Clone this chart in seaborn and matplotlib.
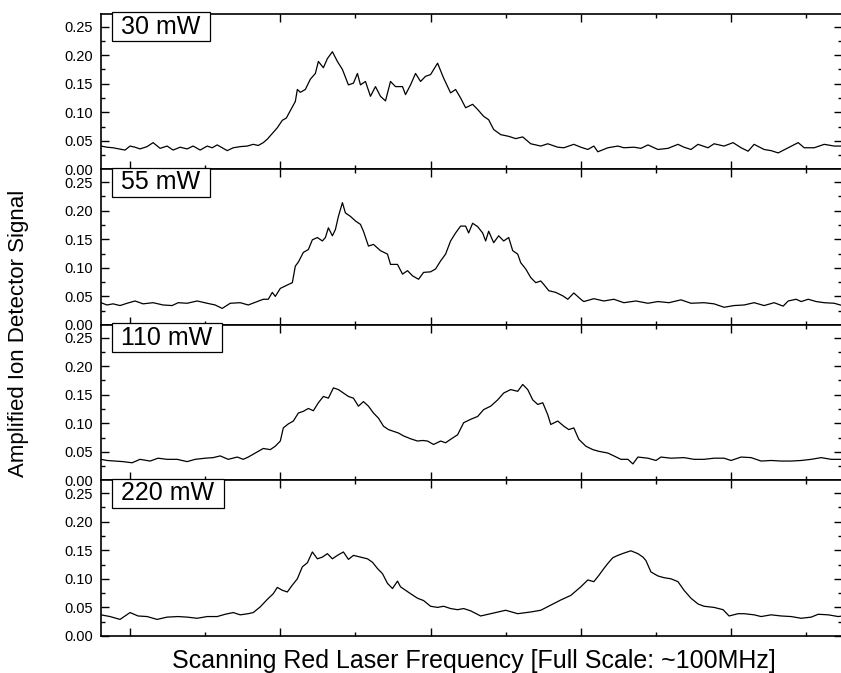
import matplotlib
matplotlib.use("Agg")
import matplotlib.pyplot as plt
import pandas as pd
import seaborn as sns
from matplotlib.ticker import FormatStrFormatter, MultipleLocator

POWER_LABELS = ["30 mW", "55 mW", "110 mW", "220 mW"]

# (scan step, amplified ion detector signal)
TRACE_30MW = [
    (0, 0.041), (6, 0.039), (12, 0.038), (18, 0.036), (24, 0.034), (29, 0.041), (34, 0.039),
    (39, 0.036), (46, 0.040), (52, 0.047), (59, 0.037), (66, 0.041), (72, 0.034), (79, 0.039),
    (86, 0.036), (92, 0.041), (99, 0.034), (106, 0.041), (111, 0.038), (116, 0.043), (121, 0.038),
    (126, 0.033), (132, 0.038), (139, 0.040), (146, 0.041), (152, 0.044), (157, 0.042), (162, 0.047),
    (166, 0.053), (172, 0.065), (176, 0.073), (181, 0.086), (185, 0.090), (189, 0.103), (194, 0.119),
    (196, 0.140), (199, 0.135), (204, 0.140), (209, 0.158), (214, 0.168), (217, 0.189), (222, 0.178),
    (226, 0.194), (231, 0.206), (236, 0.189), (241, 0.175), (247, 0.148), (252, 0.151), (256, 0.168),
    (259, 0.148), (264, 0.154), (269, 0.128), (274, 0.145), (279, 0.128), (284, 0.120), (289, 0.154),
    (294, 0.145), (301, 0.145), (304, 0.131), (309, 0.148), (314, 0.168), (319, 0.154), (324, 0.163),
    (329, 0.166), (336, 0.186), (342, 0.160), (349, 0.134), (354, 0.140), (359, 0.125), (364, 0.108),
    (371, 0.114), (376, 0.105), (382, 0.093), (387, 0.087), (392, 0.070), (399, 0.061), (407, 0.058),
    (414, 0.054), (421, 0.057), (429, 0.045), (439, 0.041), (446, 0.045), (456, 0.039), (462, 0.038),
    (472, 0.044), (479, 0.039), (486, 0.035), (492, 0.041), (496, 0.031), (506, 0.038), (516, 0.041),
    (522, 0.038), (532, 0.039), (539, 0.037), (546, 0.043), (556, 0.035), (566, 0.037), (576, 0.044),
    (582, 0.039), (589, 0.035), (596, 0.044), (606, 0.038), (612, 0.045), (622, 0.041), (631, 0.047),
    (639, 0.038), (646, 0.032), (652, 0.044), (662, 0.035), (669, 0.033), (676, 0.029), (686, 0.038),
    (696, 0.047), (702, 0.038), (712, 0.038), (722, 0.044), (732, 0.041), (740, 0.041),
]

TRACE_55MW = [
    (0, 0.039), (6, 0.035), (12, 0.037), (19, 0.034), (26, 0.038), (34, 0.042), (42, 0.037),
    (52, 0.039), (62, 0.035), (71, 0.034), (77, 0.039), (86, 0.038), (96, 0.042), (106, 0.038),
    (114, 0.035), (121, 0.029), (129, 0.038), (139, 0.039), (147, 0.035), (156, 0.041), (162, 0.045),
    (167, 0.045), (171, 0.057), (174, 0.050), (179, 0.064), (186, 0.070), (191, 0.074), (194, 0.103),
    (197, 0.110), (202, 0.127), (207, 0.132), (211, 0.149), (216, 0.153), (221, 0.147), (224, 0.153),
    (227, 0.170), (231, 0.156), (234, 0.167), (237, 0.190), (241, 0.214), (244, 0.196), (249, 0.190),
    (254, 0.182), (259, 0.176), (262, 0.164), (267, 0.138), (272, 0.141), (279, 0.130), (286, 0.124),
    (289, 0.106), (296, 0.106), (301, 0.089), (306, 0.095), (311, 0.086), (317, 0.080), (322, 0.092),
    (329, 0.093), (334, 0.098), (339, 0.112), (344, 0.124), (349, 0.147), (354, 0.161), (359, 0.173),
    (364, 0.173), (367, 0.161), (371, 0.178), (376, 0.172), (381, 0.161), (384, 0.147), (387, 0.164),
    (392, 0.144), (397, 0.156), (402, 0.147), (407, 0.153), (411, 0.130), (416, 0.124), (419, 0.109),
    (424, 0.098), (429, 0.083), (434, 0.074), (439, 0.077), (442, 0.071), (447, 0.060), (454, 0.057),
    (461, 0.051), (466, 0.045), (472, 0.056), (479, 0.045), (482, 0.041), (492, 0.046), (502, 0.042),
    (512, 0.045), (522, 0.039), (534, 0.042), (546, 0.038), (556, 0.041), (567, 0.039), (579, 0.044),
    (589, 0.038), (602, 0.039), (612, 0.037), (622, 0.031), (632, 0.034), (642, 0.035), (652, 0.039),
    (662, 0.034), (672, 0.039), (681, 0.033), (686, 0.042), (694, 0.045), (699, 0.041), (706, 0.045),
    (714, 0.041), (722, 0.039), (732, 0.038), (740, 0.034),
]

TRACE_110MW = [
    (0, 0.037), (6, 0.035), (14, 0.034), (22, 0.033), (31, 0.031), (39, 0.037), (49, 0.034),
    (57, 0.039), (66, 0.037), (76, 0.037), (86, 0.033), (94, 0.037), (104, 0.039), (112, 0.040),
    (119, 0.043), (127, 0.037), (136, 0.041), (142, 0.037), (147, 0.041), (154, 0.048), (162, 0.056),
    (169, 0.054), (174, 0.060), (179, 0.069), (182, 0.092), (187, 0.099), (192, 0.104), (197, 0.118),
    (202, 0.121), (207, 0.126), (212, 0.122), (217, 0.136), (222, 0.147), (227, 0.144), (232, 0.162),
    (237, 0.159), (242, 0.153), (247, 0.147), (252, 0.144), (257, 0.130), (262, 0.138), (267, 0.130),
    (272, 0.118), (277, 0.109), (282, 0.095), (287, 0.089), (292, 0.086), (297, 0.083), (302, 0.078),
    (309, 0.073), (316, 0.069), (321, 0.070), (326, 0.069), (332, 0.063), (339, 0.069), (344, 0.066),
    (349, 0.072), (356, 0.080), (362, 0.101), (369, 0.107), (376, 0.112), (382, 0.124), (389, 0.130),
    (396, 0.141), (402, 0.153), (409, 0.159), (416, 0.156), (421, 0.168), (426, 0.159), (431, 0.141),
    (436, 0.133), (441, 0.136), (446, 0.115), (449, 0.098), (456, 0.104), (462, 0.095), (467, 0.089),
    (472, 0.092), (477, 0.072), (484, 0.060), (491, 0.054), (497, 0.051), (506, 0.048), (512, 0.043),
    (519, 0.037), (526, 0.037), (531, 0.029), (536, 0.041), (546, 0.039), (554, 0.035), (559, 0.041),
    (569, 0.039), (582, 0.040), (592, 0.037), (602, 0.037), (612, 0.039), (622, 0.039), (629, 0.035),
    (639, 0.041), (649, 0.040), (659, 0.034), (669, 0.035), (679, 0.034), (689, 0.034), (699, 0.035),
    (709, 0.037), (719, 0.040), (729, 0.037), (740, 0.037),
]

TRACE_220MW = [
    (0, 0.037), (9, 0.034), (19, 0.029), (29, 0.041), (37, 0.035), (46, 0.034), (56, 0.029),
    (66, 0.033), (77, 0.034), (86, 0.033), (96, 0.031), (106, 0.034), (116, 0.034), (124, 0.038),
    (132, 0.041), (139, 0.037), (147, 0.039), (152, 0.041), (159, 0.051), (166, 0.064), (172, 0.074),
    (176, 0.085), (181, 0.080), (186, 0.077), (191, 0.089), (196, 0.100), (201, 0.121), (206, 0.128),
    (211, 0.147), (216, 0.135), (221, 0.138), (226, 0.144), (231, 0.135), (236, 0.141), (242, 0.147),
    (247, 0.134), (252, 0.141), (259, 0.138), (266, 0.135), (271, 0.129), (276, 0.118), (281, 0.109),
    (286, 0.092), (291, 0.083), (296, 0.096), (299, 0.086), (304, 0.080), (309, 0.074), (316, 0.066),
    (322, 0.062), (329, 0.052), (336, 0.050), (342, 0.052), (349, 0.048), (356, 0.046), (362, 0.048),
    (369, 0.044), (379, 0.035), (389, 0.039), (404, 0.045), (416, 0.039), (429, 0.042), (439, 0.045),
    (449, 0.054), (459, 0.063), (469, 0.071), (479, 0.086), (486, 0.098), (492, 0.095), (497, 0.106),
    (502, 0.118), (506, 0.127), (511, 0.137), (516, 0.141), (522, 0.145), (529, 0.149), (536, 0.144),
    (541, 0.138), (544, 0.132), (549, 0.112), (556, 0.105), (562, 0.102), (569, 0.100), (576, 0.095),
    (582, 0.080), (589, 0.066), (596, 0.056), (602, 0.052), (612, 0.050), (621, 0.046), (627, 0.035),
    (636, 0.039), (642, 0.039), (652, 0.037), (659, 0.034), (669, 0.037), (679, 0.035), (689, 0.034),
    (699, 0.031), (709, 0.033), (716, 0.038), (726, 0.037), (736, 0.034), (740, 0.035),
]

TRACES = [TRACE_30MW, TRACE_55MW, TRACE_110MW, TRACE_220MW]

sns.set_theme(style="ticks")
plt.rcParams["font.family"] = ["Liberation Sans", "DejaVu Sans"]

fig, axes = plt.subplots(4, 1, sharex=True, figsize=(8.41, 6.73), dpi=100,
                         gridspec_kw={"hspace": 0})
# right spine sits just past the image edge, like the original export
fig.subplots_adjust(left=0.1201, right=1.0015, top=0.9792, bottom=0.055)

for ax, label, trace in zip(axes, POWER_LABELS, TRACES):
    df = pd.DataFrame(trace, columns=["step", "signal"])
    sns.lineplot(data=df, x="step", y="signal", ax=ax, color="black", linewidth=0.9)

    ax.set_xlim(0, 740)
    ax.set_ylim(0, 0.272)
    ax.set_xlabel("")
    ax.set_ylabel("")
    ax.xaxis.set_major_locator(MultipleLocator(150, offset=29))
    ax.xaxis.set_minor_locator(MultipleLocator(75, offset=29))
    ax.yaxis.set_major_locator(MultipleLocator(0.05))
    ax.yaxis.set_minor_locator(MultipleLocator(0.025))
    ax.yaxis.set_major_formatter(FormatStrFormatter("%.2f"))
    ax.tick_params(which="both", direction="in", top=True, right=True, bottom=True, left=True,
                   labelbottom=False, labelsize=10.5, width=1.0, color="black", labelcolor="black",
                   pad=6)
    ax.tick_params(which="major", length=5.5)
    ax.tick_params(which="minor", length=3.2)
    for spine in ax.spines.values():
        spine.set_visible(True)
        spine.set_color("black")
        spine.set_linewidth(1.2)

    ax.text(0.0176, 0.995, " " + label + " ", transform=ax.transAxes, ha="left", va="top",
            fontsize=18, color="black", zorder=5,
            bbox=dict(boxstyle="square,pad=0.1", facecolor="white", edgecolor="black",
                      linewidth=0.9))

fig.text(0.563, 0.018, "Scanning Red Laser Frequency [Full Scale: ~100MHz]",
         ha="center", va="center", fontsize=18, color="black")
fig.text(0.022, 0.505, "Amplified Ion Detector Signal", rotation=90,
         ha="center", va="center", fontsize=16, color="black")

fig.savefig("out.png", dpi=100)
